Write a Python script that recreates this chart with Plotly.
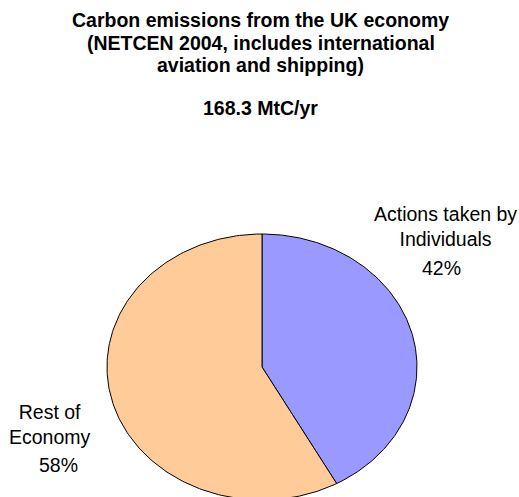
import numpy as np
import plotly.graph_objects as go

# ---- data ----
categories = ["Actions taken by<br>Individuals", "Rest of<br>Economy"]
shares = [42, 58]                      # percent of total
colors = ["#9999FF", "#FFCC99"]
total_label = "168.3 MtC/yr"
title_lines = ["Carbon emissions from the UK economy",
               "(NETCEN 2004, includes international",
               "aviation and shipping)"]

W, H = 519, 497
# ellipse geometry in pixel space (style, not data)
cx, cy, rx, ry = 262, 367, 155, 133

fig = go.Figure()
vals = np.array(shares, dtype=float)
cum = np.concatenate([[0], np.cumsum(vals) / vals.sum()])
for i, (cat, col) in enumerate(zip(categories, colors)):
    th = np.linspace(cum[i], cum[i + 1], 200) * 2 * np.pi
    xs = np.concatenate([[cx], cx + rx * np.sin(th), [cx]])
    ys = np.concatenate([[cy], cy - ry * np.cos(th), [cy]])
    fig.add_trace(go.Scatter(x=xs, y=ys, mode="lines", fill="toself",
                             fillcolor=col, line=dict(color="black", width=1),
                             hoverinfo="skip", showlegend=False))

font = dict(family="Liberation Sans, Arial, sans-serif", color="black")
ann = []
for j, line in enumerate(title_lines):
    ann.append(dict(x=W / 2 + 1, y=20 + j * 22.5, text="<b>%s</b>" % line,
                    showarrow=False, font=dict(size=19.5, **font),
                    xanchor="center", yanchor="middle"))
ann.append(dict(x=W / 2 + 1, y=108, text="<b>%s</b>" % total_label,
                showarrow=False, font=dict(size=19.5, **font),
                xanchor="center", yanchor="middle"))
label_pos = [(445, 226, 441, 268), (50, 424, 58, 465)]
for cat, v, (lx, ly, px, py) in zip(categories, shares, label_pos):
    ann.append(dict(x=lx, y=ly, text=cat, showarrow=False,
                    font=dict(size=19.5, **font), xanchor="center", yanchor="middle"))
    ann.append(dict(x=px, y=py, text="%d%%" % round(v / sum(shares) * 100),
                    showarrow=False, font=dict(size=19.5, **font),
                    xanchor="center", yanchor="middle"))

fig.update_layout(
    width=W, height=H, margin=dict(l=0, r=0, t=0, b=0),
    paper_bgcolor="white", plot_bgcolor="white",
    xaxis=dict(range=[0, W], visible=False, fixedrange=True),
    yaxis=dict(range=[H, 0], visible=False, fixedrange=True),
    annotations=ann,
)
fig.write_html("out.html")
